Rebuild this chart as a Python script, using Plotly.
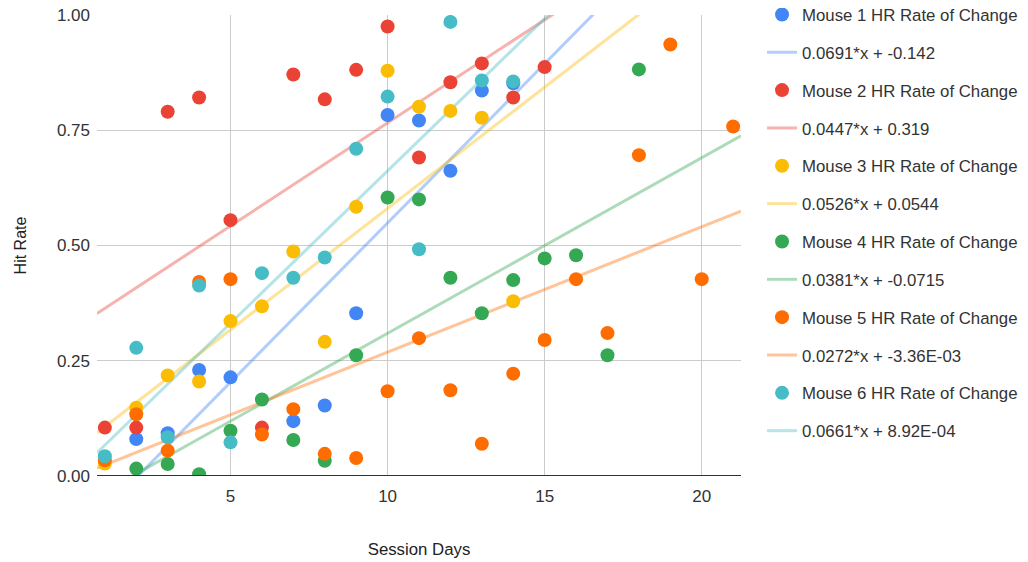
import plotly.graph_objects as go

# ---- data ----
mouse1_days = [2, 3, 4, 5, 7, 8, 9, 10, 11, 12, 13, 14]
mouse1_hr = [0.080, 0.093, 0.230, 0.214, 0.119, 0.153, 0.353, 0.783, 0.771, 0.662, 0.836, 0.852]

mouse2_days = [1, 2, 3, 4, 5, 6, 7, 8, 9, 10, 11, 12, 13, 14, 15]
mouse2_hr = [0.105, 0.105, 0.790, 0.821, 0.555, 0.105, 0.871, 0.817, 0.881, 0.975, 0.691, 0.854, 0.895, 0.821, 0.887]

mouse3_days = [1, 2, 3, 4, 5, 6, 7, 8, 9, 10, 11, 12, 13, 14]
mouse3_hr = [0.027, 0.148, 0.218, 0.205, 0.336, 0.368, 0.487, 0.291, 0.584, 0.879, 0.801, 0.792, 0.777, 0.379]

mouse4_days = [2, 3, 4, 5, 6, 7, 8, 9, 10, 11, 12, 13, 14, 15, 16, 17, 18]
mouse4_hr = [0.016, 0.026, 0.004, 0.098, 0.166, 0.078, 0.033, 0.262, 0.604, 0.600, 0.430, 0.353, 0.425, 0.472, 0.479, 0.262, 0.882]

mouse5_days = [1, 2, 3, 4, 5, 6, 7, 8, 9, 10, 11, 12, 13, 14, 15, 16, 17, 18, 19, 20, 21]
mouse5_hr = [0.034, 0.134, 0.055, 0.421, 0.427, 0.090, 0.145, 0.048, 0.039, 0.184, 0.299, 0.186, 0.070, 0.222, 0.295, 0.427, 0.310, 0.696, 0.936, 0.427, 0.758]

mouse6_days = [1, 2, 3, 4, 5, 6, 7, 8, 9, 10, 11, 12, 13, 14]
mouse6_hr = [0.043, 0.278, 0.084, 0.413, 0.073, 0.440, 0.430, 0.474, 0.710, 0.823, 0.492, 0.985, 0.858, 0.856]

series_names = ["Mouse 1 HR Rate of Change", "Mouse 2 HR Rate of Change", "Mouse 3 HR Rate of Change",
                "Mouse 4 HR Rate of Change", "Mouse 5 HR Rate of Change", "Mouse 6 HR Rate of Change"]
trend_slopes = [0.0691, 0.0447, 0.0526, 0.0381, 0.0272, 0.0661]
trend_intercepts = [-0.142, 0.319, 0.0544, -0.0715, -3.36e-03, 8.92e-04]
trend_labels = ["0.0691*x + -0.142", "0.0447*x + 0.319", "0.0526*x + 0.0544",
                "0.0381*x + -0.0715", "0.0272*x + -3.36E-03", "0.0661*x + 8.92E-04"]

x_ticks = [5, 10, 15, 20]
y_ticks = [0, 0.25, 0.5, 0.75, 1.0]
y_tick_labels = ["0.00", "0.25", "0.50", "0.75", "1.00"]

colors = ["#4285F4", "#EA4335", "#FBBC04", "#34A853", "#FF6D01", "#46BDC6"]
x_range = [0.75, 21.25]

all_days = [mouse1_days, mouse2_days, mouse3_days, mouse4_days, mouse5_days, mouse6_days]
all_hr = [mouse1_hr, mouse2_hr, mouse3_hr, mouse4_hr, mouse5_hr, mouse6_hr]

FONT = "Liberation Sans, Arial, sans-serif"

fig = go.Figure()

# trend lines first (drawn below points)
for i in range(6):
    xs = x_range
    ys = [trend_slopes[i] * x + trend_intercepts[i] for x in xs]
    fig.add_trace(go.Scatter(
        x=xs, y=ys, mode="lines", name=trend_labels[i],
        line=dict(color=colors[i], width=3), opacity=0.4,
        legendgroup=f"g{2*i+1}", legendrank=2 * i + 2, hoverinfo="skip",
    ))

for i in range(6):
    fig.add_trace(go.Scatter(
        x=all_days[i], y=all_hr[i], mode="markers", name=series_names[i],
        marker=dict(color=colors[i], size=14, line=dict(width=0)),
        legendgroup=f"g{2*i}", legendrank=2 * i + 1,
    ))

fig.update_layout(
    width=1028, height=562,
    margin=dict(l=89, r=295, t=7, b=94, autoexpand=False),
    paper_bgcolor="white", plot_bgcolor="white",
    font=dict(family=FONT, size=16, color="#333333"),
    showlegend=True,
    legend=dict(
        x=0.7335, xref="container", xanchor="left",
        y=1.039, yref="paper", yanchor="top",
        font=dict(family=FONT, size=16.8, color="#333333"),
        tracegroupgap=13, itemsizing="trace", maxheight=640,
        bgcolor="rgba(0,0,0,0)",
    ),
    xaxis=dict(
        range=x_range, tickvals=x_ticks, showgrid=True, gridcolor="#cccccc", gridwidth=1,
        zeroline=False, showline=False, ticks="", ticklabelstandoff=8,
        ticklabeloverflow="allow",
        tickfont=dict(family=FONT, size=17, color="#333333"),
        title=dict(text="Session Days", font=dict(family=FONT, size=16.8, color="#222222"), standoff=38),
    ),
    yaxis=dict(
        range=[0, 1], tickvals=y_ticks, ticktext=y_tick_labels, showgrid=True, gridcolor="#cccccc",
        gridwidth=1, zeroline=False, showline=False, ticks="", ticklabelstandoff=6,
        ticklabeloverflow="allow",
        tickfont=dict(family=FONT, size=17, color="#333333"),
        title=dict(text="Hit Rate", font=dict(family=FONT, size=16, color="#222222"), standoff=26),
    ),
    shapes=[dict(type="line", xref="paper", yref="y", x0=0, x1=1, y0=0, y1=0,
                 line=dict(color="#333333", width=2), layer="above")],
)

fig.write_html("out.html")
